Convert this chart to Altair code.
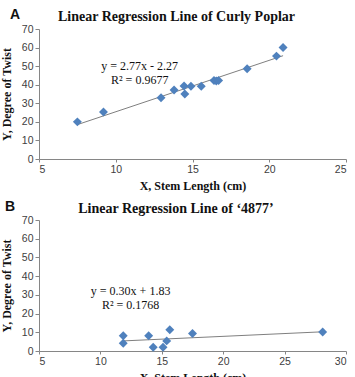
import altair as alt
import pandas as pd

# Panel A: Curly Poplar, stem length (cm) vs degree of twist
poplar_x = [7.5, 9.2, 12.95, 13.8, 14.45, 14.5, 14.9, 15.57, 16.4, 16.55, 16.7, 18.56, 20.47, 20.9]
poplar_y = [20.0, 25.3, 33.0, 37.2, 39.3, 35.0, 39.2, 39.2, 42.3, 42.0, 42.3, 48.6, 55.4, 60.0]
poplar_slope, poplar_intercept, poplar_r2 = 2.77, -2.27, 0.9677

# Panel B: clone '4877'
c4877_x = [11.86, 11.86, 13.93, 14.3, 15.1, 15.4, 15.65, 17.5, 28.1]
c4877_y = [8.2, 4.1, 8.2, 2.0, 2.0, 5.4, 11.4, 9.3, 10.2]
c4877_slope, c4877_intercept, c4877_r2 = 0.30, 1.83, 0.1768

SERIF = "Liberation Serif"
SANS = "Liberation Sans"
BLUE = "#4F81BD"


def equation(slope, intercept, r2):
    sign = "-" if intercept < 0 else "+"
    return [f"y = {slope:.2f}x {sign} {abs(intercept):.2f}", f"R\u00b2 = {r2:.4f}"]


def panel(xs, ys, slope, intercept, r2, xmax, title, letter, eq_xy, letter_xy, title_xy, w, h):
    pts = pd.DataFrame({"x": xs, "y": ys})
    lo, hi = min(xs), max(xs)
    fit = pd.DataFrame({"x": [lo, hi], "y": [slope * lo + intercept, slope * hi + intercept]})
    eq = pd.DataFrame({"x": [eq_xy[0]], "y": [eq_xy[1]], "t": [equation(slope, intercept, r2)]})

    x_enc = alt.X("x:Q", scale=alt.Scale(domain=[5, xmax], nice=False, zero=False),
                  axis=alt.Axis(title="X, Stem Length (cm)", values=list(range(5, xmax + 1, 5)),
                                grid=False, tickSize=3, titlePadding=6, labelOverlap=False))
    y_enc = alt.Y("y:Q", scale=alt.Scale(domain=[0, 70], nice=False),
                  axis=alt.Axis(title="Y, Degree of Twist", values=list(range(0, 71, 10)),
                                grid=False, tickSize=4, titlePadding=8, labelOverlap=False))

    line = alt.Chart(fit).mark_line(color="#7f7f7f", strokeWidth=1).encode(x=x_enc, y=y_enc)
    dots = alt.Chart(pts).mark_point(shape="diamond", filled=True, size=80,
                                     color=BLUE, opacity=1).encode(x=x_enc, y=y_enc)
    txt = alt.Chart(eq).mark_text(font=SERIF, fontSize=12, color="#111",
                                  align="center", baseline="middle",
                                  lineHeight=14).encode(x=x_enc, y=y_enc, text="t")
    tag = alt.Chart(pd.DataFrame({"t": [letter]})).mark_text(
        font=SANS, fontSize=14, fontWeight="bold", color="#111",
        align="center", baseline="alphabetic").encode(
        x=alt.value(letter_xy[0]), y=alt.value(letter_xy[1]), text="t")
    head = alt.Chart(pd.DataFrame({"t": [title]})).mark_text(
        font=SERIF, fontSize=14, fontWeight="bold", color="#111",
        align="center", baseline="alphabetic").encode(
        x=alt.value(title_xy[0]), y=alt.value(title_xy[1]), text="t")

    return alt.layer(line, dots, txt, tag, head).properties(width=w, height=h)


chart_a = panel(poplar_x, poplar_y, poplar_slope, poplar_intercept, poplar_r2, 25,
                "Linear Regression Line of Curly Poplar", "A",
                (11.56, 50.0), (-24, -10), (137.5, -8), 307, 130)
chart_b = panel(c4877_x, c4877_y, c4877_slope, c4877_intercept, c4877_r2, 30,
                "Linear Regression Line of \u20184877\u2019", "B",
                (12.46, 31.8), (-29, -9), (137, -7), 307, 131)

chart = alt.vconcat(chart_a, chart_b, spacing=8).properties(
    padding={"left": 0, "top": 8, "right": 0, "bottom": 0},
    background="white",
).configure_view(stroke=None).configure_axis(
    domainColor="#868686", tickColor="#868686", labelFont=SANS, labelFontSize=10.5,
    labelColor="#404040", titleFont=SERIF, titleFontSize=12, titleFontWeight="bold",
    titleColor="#111", labelPadding=2,
)

chart.save("out.html", embed_options={"renderer": "svg", "actions": False})
